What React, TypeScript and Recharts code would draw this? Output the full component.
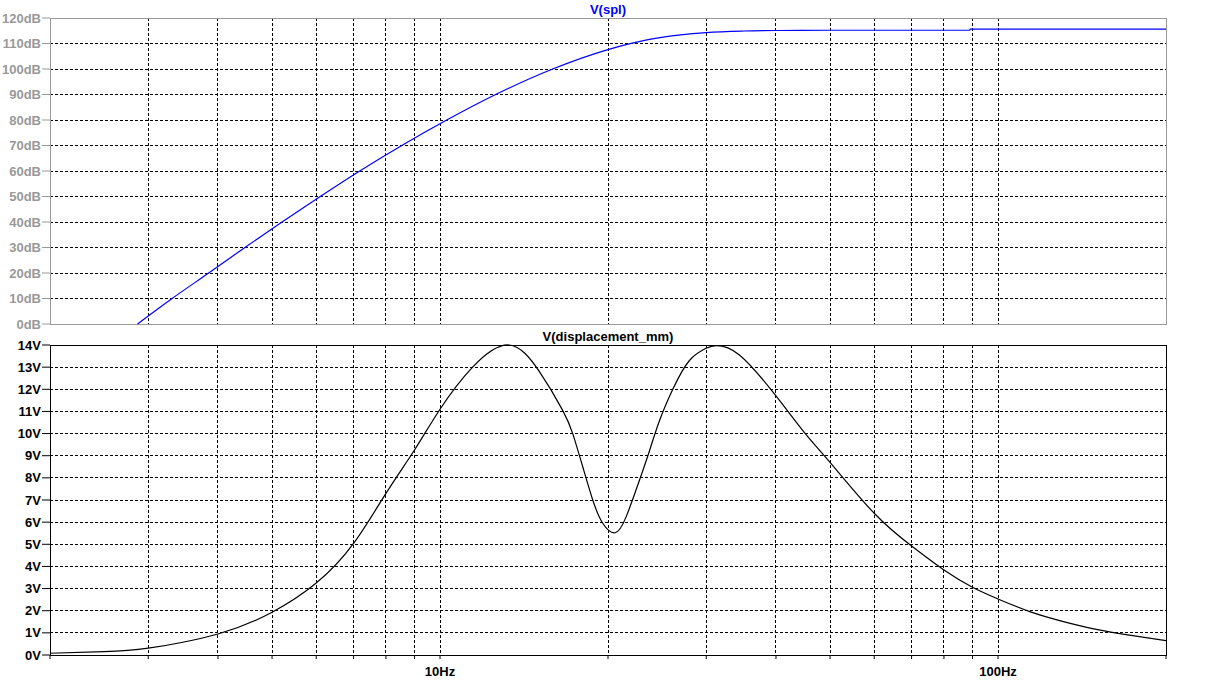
import { LineChart, Line, XAxis, YAxis, CartesianGrid, ReferenceArea } from 'recharts';

const splFreq = [2.87, 3.31, 3.85, 4.47, 5.21, 6.1, 7.18, 8.54, 10.28, 12.58, 15.92, 20, 23.6, 27, 30, 35, 40, 50, 70, 88.9, 89.1, 200];
const splDb = [0, 10, 20, 30, 40, 50, 60, 70, 80, 90, 100, 107.6, 111.5, 113.4, 114.3, 114.9, 115.1, 115.2, 115.2, 115.2, 115.6, 115.6];

// V(displacement_mm) trace, lower pane
const dispFreq = [2, 2.5, 3, 4, 5, 6, 7, 8, 9, 10, 11.44, 13.3, 15.07, 16.58, 17.29, 18.02, 18.78, 19.57, 20.6, 21.56, 22.78, 23.76, 24.75, 26.13, 27.99, 29.98, 31.26, 34.4, 40, 45.3, 50, 60, 70, 80, 90, 100, 114, 131, 150, 172, 200];
const dispV = [0.08, 0.15, 0.31, 0.95, 1.93, 3.25, 5.04, 7.30, 9.26, 11.1, 13.0, 14.0, 12.8, 11.06, 10.0, 8.5, 7.0, 5.95, 5.52, 6.25, 7.9, 9.26, 10.6, 12.0, 13.3, 13.85, 13.97, 13.55, 11.7, 9.95, 8.7, 6.40, 4.92, 3.84, 3.06, 2.53, 1.96, 1.51, 1.16, 0.90, 0.65];

const freqTicks = [2, 3, 4, 5, 6, 7, 8, 9, 10, 20, 30, 40, 50, 60, 70, 80, 90, 100, 200];
const dbTicks = [0, 10, 20, 30, 40, 50, 60, 70, 80, 90, 100, 110, 120];
const voltTicks = [0, 1, 2, 3, 4, 5, 6, 7, 8, 9, 10, 11, 12, 13, 14];
const freqLabels: Record<number, string> = { 10: '10Hz', 100: '100Hz' };

const splData = splFreq.map((f, i) => ({ f, db: splDb[i] }));
const dispData = dispFreq.map((f, i) => ({ f, v: dispV[i] }));

const FONT = '"Liberation Sans", Arial, sans-serif';
const GRAY = '#999999';

const titleStyle: React.CSSProperties = {
    position: 'absolute',
    left: 50,
    width: 1116,
    textAlign: 'center',
    fontFamily: FONT,
    fontWeight: 'bold',
    fontSize: 13,
    lineHeight: '15px',
};

export default function App() {
    return (
        <div style={{ position: 'relative', width: 1220, height: 681, background: '#fff', overflow: 'hidden' }}>
            <style>{'body{margin:0}'}</style>

            <div style={{ position: 'absolute', left: 0, top: 0 }}>
                <LineChart width={1220} height={340} data={splData} margin={{ top: 18, right: 54, bottom: 16, left: 0 }}>
                    <CartesianGrid stroke="#000" strokeDasharray="3 2" shapeRendering="crispEdges" />
                    <XAxis
                        dataKey="f"
                        type="number"
                        scale="log"
                        domain={[2, 200]}
                        ticks={freqTicks}
                        interval={0}
                        allowDataOverflow
                        height={0}
                        tick={{ fill: 'none', fontSize: 1 }}
                        tickFormatter={() => ''}
                        tickLine={false}
                        axisLine={false}
                    />
                    <YAxis
                        type="number"
                        domain={[0, 120]}
                        ticks={dbTicks}
                        interval={0}
                        width={50}
                        tickSize={8}
                        tickMargin={1}
                        axisLine={false}
                        tickLine={{ stroke: GRAY }}
                        tick={{ fill: GRAY, fontSize: 13, fontWeight: 'bold', fontFamily: FONT }}
                        tickFormatter={(v) => `${v}dB`}
                    />
                    <ReferenceArea x1={2} x2={200} y1={0} y2={120} fill="none" stroke={GRAY} strokeWidth={1} shapeRendering="crispEdges" ifOverflow="visible" />
                    <Line
                        type="monotone"
                        dataKey="db"
                        stroke="#0000ff"
                        strokeWidth={1.2}
                        dot={false}
                        isAnimationActive={false}
                    />
                </LineChart>
            </div>

            <div style={{ position: 'absolute', left: 0, top: 327 }}>
                <LineChart width={1220} height={354} data={dispData} margin={{ top: 18, right: 54, bottom: 0, left: 0 }}>
                    <CartesianGrid stroke="#000" strokeDasharray="3 2" shapeRendering="crispEdges" />
                    <XAxis
                        dataKey="f"
                        type="number"
                        scale="log"
                        domain={[2, 200]}
                        ticks={freqTicks}
                        interval={0}
                        allowDataOverflow
                        height={26}
                        tickSize={4}
                        tickMargin={8}
                        axisLine={false}
                        tickLine={{ stroke: '#000' }}
                        tick={{ fill: '#000', fontSize: 13, fontWeight: 'bold', fontFamily: FONT }}
                        tickFormatter={(v) => freqLabels[v] ?? ''}
                    />
                    <YAxis
                        type="number"
                        domain={[0, 14]}
                        ticks={voltTicks}
                        interval={0}
                        width={50}
                        tickSize={8}
                        tickMargin={1}
                        axisLine={false}
                        tickLine={{ stroke: '#000' }}
                        tick={{ fill: '#000', fontSize: 13, fontWeight: 'bold', fontFamily: FONT }}
                        tickFormatter={(v) => `${v}V`}
                    />
                    <ReferenceArea x1={2} x2={200} y1={0} y2={14} fill="none" stroke="#000" strokeWidth={1} shapeRendering="crispEdges" ifOverflow="visible" />
                    <Line
                        type="natural"
                        dataKey="v"
                        stroke="#000"
                        strokeWidth={1.2}
                        dot={false}
                        isAnimationActive={false}
                    />
                </LineChart>
            </div>

            <div style={{ ...titleStyle, top: 2, color: '#0000ff' }}>V(spl)</div>
            <div style={{ ...titleStyle, top: 329, color: '#000' }}>V(displacement_mm)</div>
        </div>
    );
}
